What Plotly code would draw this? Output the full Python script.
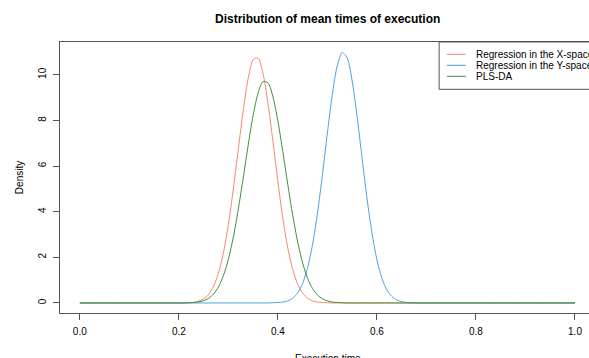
import plotly.graph_objects as go

# Sample positions along the execution-time axis
x_time = [0.00, 0.10,
          0.20, 0.21, 0.22, 0.23, 0.24, 0.25, 0.26, 0.27, 0.28, 0.29,
          0.30, 0.31, 0.32, 0.33, 0.34, 0.35, 0.36, 0.37, 0.38, 0.39,
          0.40, 0.41, 0.42, 0.43, 0.44, 0.45, 0.46, 0.47, 0.48, 0.49,
          0.50, 0.51, 0.52, 0.53, 0.54, 0.55, 0.56, 0.57, 0.58, 0.59,
          0.60, 0.61, 0.62, 0.63, 0.64, 0.65, 0.66, 0.67, 0.68, 0.69,
          0.70, 0.80, 0.90, 1.00]

# Density of mean execution times, one list per method
dens_x_space = [0.00, 0.00,
                0.00, 0.00, 0.01, 0.03, 0.08, 0.18, 0.37, 0.73, 1.31, 2.20,
                3.43, 4.99, 6.73, 8.44, 9.84, 10.66, 10.74, 10.06, 8.75, 7.08,
                5.32, 3.72, 2.42, 1.46, 0.82, 0.43, 0.21, 0.09, 0.04, 0.02,
                0.01, 0.00, 0.00, 0.00, 0.00, 0.00, 0.00, 0.00, 0.00, 0.00,
                0.00, 0.00, 0.00, 0.00, 0.00, 0.00, 0.00, 0.00, 0.00, 0.00,
                0.00, 0.00, 0.00, 0.00]

dens_y_space = [0.00, 0.00,
                0.00, 0.00, 0.00, 0.00, 0.00, 0.00, 0.00, 0.00, 0.00, 0.00,
                0.00, 0.00, 0.00, 0.00, 0.00, 0.00, 0.00, 0.00, 0.00, 0.01,
                0.02, 0.04, 0.09, 0.21, 0.44, 0.86, 1.54, 2.56, 3.94, 5.63,
                7.46, 9.15, 10.41, 10.98, 10.74, 9.73, 8.17, 6.36, 4.59, 3.07,
                1.90, 1.09, 0.58, 0.29, 0.13, 0.06, 0.02, 0.01, 0.00, 0.00,
                0.00, 0.00, 0.00, 0.00]

dens_plsda = [0.00, 0.00,
              0.00, 0.00, 0.01, 0.02, 0.05, 0.10, 0.20, 0.39, 0.70, 1.20,
              1.91, 2.88, 4.10, 5.48, 6.91, 8.22, 9.20, 9.70, 9.65, 9.04,
              7.97, 6.63, 5.20, 3.84, 2.67, 1.75, 1.08, 0.63, 0.35, 0.18,
              0.09, 0.04, 0.02, 0.01, 0.00, 0.00, 0.00, 0.00, 0.00, 0.00,
              0.00, 0.00, 0.00, 0.00, 0.00, 0.00, 0.00, 0.00, 0.00, 0.00,
              0.00, 0.00, 0.00, 0.00]

series_names = ["Regression in the X-space", "Regression in the Y-space", "PLS-DA"]
series_values = [dens_x_space, dens_y_space, dens_plsda]
series_colors = ["#F8876F", "#4BA2DA", "#3F8F3A"]

x_ticks = [0.0, 0.2, 0.4, 0.6, 0.8, 1.0]
x_tick_text = ["0.0", "0.2", "0.4", "0.6", "0.8", "1.0"]
y_ticks = [0, 2, 4, 6, 8, 10]
y_tick_text = ["0", "2", "4", "6", "8", "10"]

W, H = 589, 358
ML, MR, MT, MB = 59.5, 0, 41.7, 45.3
PW, PH = W - ML - MR, H - MT - MB
FONT = "Liberation Sans, Arial, Helvetica, sans-serif"
AXIS_COLOR = "#555555"


def px(x):
    return (x - ML) / PW


def py(y):
    return 1 - (y - MT) / PH


fig = go.Figure()
for name, vals, col in zip(series_names, series_values, series_colors):
    fig.add_trace(go.Scatter(
        x=x_time, y=vals, mode="lines", name=name,
        line=dict(color=col, width=1.0, shape="spline", smoothing=0.8),
        showlegend=False, hoverinfo="skip",
    ))

# Legend box in the top-right corner, running past the right edge
shapes = [dict(type="rect", xref="paper", yref="paper",
               x0=px(439), x1=px(610), y0=py(89), y1=py(41.7),
               line=dict(color=AXIS_COLOR, width=1), fillcolor="white",
               layer="above")]
annotations = []
for i, (name, col) in enumerate(zip(series_names, series_colors)):
    yy = 54 + 11 * i
    shapes.append(dict(type="line", xref="paper", yref="paper",
                       x0=px(446.7), x1=px(465.7), y0=py(yy), y1=py(yy),
                       line=dict(color=col, width=1.0), layer="above"))
    annotations.append(dict(text=name, xref="paper", yref="paper",
                            x=px(474), y=py(yy), xanchor="left", yanchor="middle",
                            showarrow=False, font=dict(size=10, color="black", family=FONT)))

annotations += [
    dict(text="<b>Distribution of mean times of execution</b>", xref="paper", yref="paper",
         x=px(327.3), y=py(18.3), xanchor="center", yanchor="middle", showarrow=False,
         font=dict(size=12, color="black", family=FONT)),
    dict(text="Execution time", xref="paper", yref="paper",
         x=px(327.3), y=py(350.5), xanchor="center", yanchor="top", showarrow=False,
         font=dict(size=10, color="black", family=FONT)),
    dict(text="Density", xref="paper", yref="paper",
         x=px(18.3), y=py(177), xanchor="center", yanchor="middle", showarrow=False,
         textangle=-90, font=dict(size=10, color="black", family=FONT)),
]

fig.update_layout(
    width=W, height=H,
    margin=dict(l=ML, r=MR, t=MT, b=MB, autoexpand=False),
    paper_bgcolor="white", plot_bgcolor="white",
    font=dict(family=FONT, size=10, color="black"),
    shapes=shapes, annotations=annotations,
    xaxis=dict(range=[-0.04, 1.0283], tickvals=x_ticks, ticktext=x_tick_text,
               showgrid=False, zeroline=False, showline=True, mirror=True,
               linecolor=AXIS_COLOR, linewidth=1, ticks="outside", ticklen=6,
               tickwidth=1, tickcolor=AXIS_COLOR, ticklabelstandoff=3,
               tickfont=dict(size=10, color="black", family=FONT)),
    yaxis=dict(range=[-0.44, 11.44], tickvals=y_ticks, ticktext=y_tick_text,
               showgrid=False, zeroline=False, showline=True, mirror=False,
               linecolor=AXIS_COLOR, linewidth=1, ticks="outside", ticklen=6,
               tickwidth=1, tickcolor=AXIS_COLOR, tickangle=-90, ticklabelstandoff=3,
               tickfont=dict(size=10, color="black", family=FONT)),
)

fig.write_html("out.html")
